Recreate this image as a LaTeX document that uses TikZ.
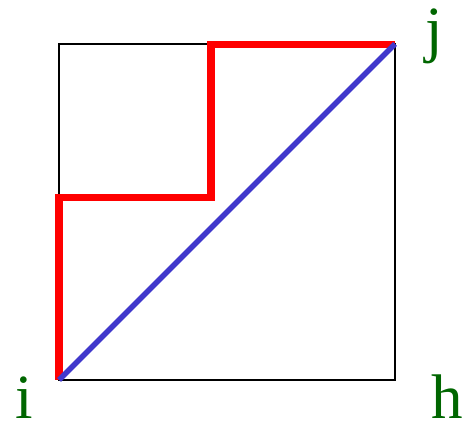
\documentclass[tikz,border=0pt]{standalone}
\usepackage{fontspec}
\setmainfont{Liberation Serif}
\begin{document}
\begin{tikzpicture}[x=1pt,y=-1pt,
  lbl/.style={text=labelgreen,font=\fontsize{63}{63}\selectfont,inner sep=0pt,anchor=base},
  frame/.style={draw=black,line width=2pt},
  redpath/.style={draw=red,line width=7.5pt,miter limit=10},
  bluepath/.style={draw=diagblue,line width=5.5pt}]
\definecolor{labelgreen}{RGB}{0,102,0}
\definecolor{diagblue}{RGB}{64,56,204}
\useasboundingbox (0,0) rectangle (475,425);
\coordinate (BL) at (59,380);
\coordinate (TR) at (395,44);
\coordinate (A) at (59,197.5);
\coordinate (B) at (211,197.5);
\coordinate (C) at (211,44.5);
\coordinate (D) at (395,44.5);
\draw[frame] (BL) rectangle (TR);
\draw[redpath] (BL) -- (A) -- (B) -- (C) -- (D);
\draw[bluepath] (BL) -- (TR);
\node[lbl,text depth=0pt] (i) at (24.5,419) {i};
\node[lbl,text depth=0pt] (h) at (447,419) {h};
\node[lbl] (j) at (434,51) {j};
\end{tikzpicture}
\end{document}
